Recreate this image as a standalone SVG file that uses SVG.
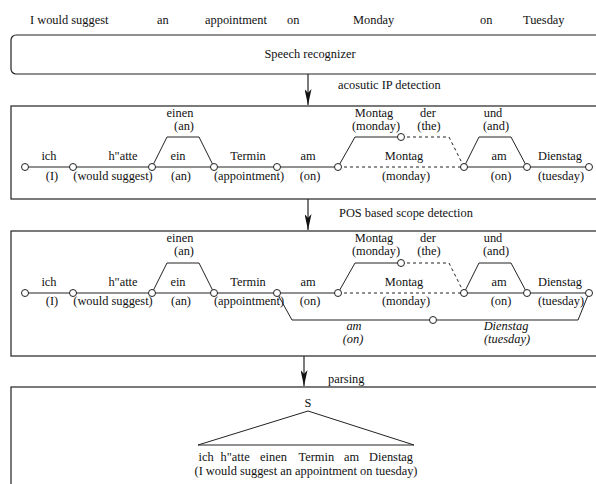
<svg xmlns="http://www.w3.org/2000/svg" width="596" height="484" viewBox="0 0 596 484">
<defs>
<style>
text{font-family:"Liberation Serif","Times New Roman",serif;font-size:12.4px;fill:#111;text-anchor:middle}
.st{text-anchor:start}
.it{font-style:italic}
.box{fill:none;stroke:#222;stroke-width:1.2}
.e{fill:none;stroke:#222;stroke-width:1}
.d{fill:none;stroke:#222;stroke-width:1;stroke-dasharray:3,3}
.n{fill:#fff;stroke:#222;stroke-width:1}
.ar{stroke:#222;stroke-width:1.2;fill:none}
</style>
<marker id="ah" viewBox="0 0 7 16" refX="3.5" refY="16" markerWidth="7" markerHeight="16" orient="auto" markerUnits="userSpaceOnUse">
<path d="M0,0 L3.5,16 L7,0 L3.5,4 Z" fill="#111" transform="rotate(-90 3.5 8) translate(0 0)"/>
</marker>
<marker id="ah2" viewBox="0 0 16 7" refX="16" refY="3.5" markerWidth="16" markerHeight="7" orient="auto" markerUnits="userSpaceOnUse">
<path d="M0,0 L16,3.5 L0,7 L4,3.5 Z" fill="#111"/>
</marker>
</defs>
<rect width="596" height="484" fill="#fff"/>

<g id="input-words">
<text class="st" x="30" y="24">I would suggest</text>
<text class="st" x="157" y="24">an</text>
<text class="st" x="205" y="24">appointment</text>
<text class="st" x="287" y="24">on</text>
<text class="st" x="353" y="24">Monday</text>
<text class="st" x="480" y="24">on</text>
<text class="st" x="523" y="24">Tuesday</text>
</g>

<g id="speech-recognizer">
<rect class="box" x="11" y="35" width="620" height="39" rx="5"/>
<text x="310" y="58">Speech recognizer</text>
</g>

<g id="lattice-acoustic">
<rect class="box" x="11" y="106" width="620" height="93"/>
<path class="e" d="M25,167H73M73,167H152M152,167H214M214,167H277M277,167H338M464,167H527M527,167H589"/>
<path class="e" d="M152,167L167,137H199L214,167"/>
<path class="e" d="M338,167L355,137H401"/>
<path class="d" d="M401,137H449L464,167M338,167H464"/>
<path class="e" d="M464,167L479,137H511L527,167"/>
<circle class="n" cx="25" cy="167" r="3.5"/>
<circle class="n" cx="73" cy="167" r="3.5"/>
<circle class="n" cx="152" cy="167" r="3.5"/>
<circle class="n" cx="214" cy="167" r="3.5"/>
<circle class="n" cx="277" cy="167" r="3.5"/>
<circle class="n" cx="338" cy="167" r="3.5"/>
<circle class="n" cx="401" cy="137" r="3.5"/>
<circle class="n" cx="464" cy="167" r="3.5"/>
<circle class="n" cx="527" cy="167" r="3.5"/>
<circle class="n" cx="589" cy="167" r="3.5"/>
<text x="49" y="160">ich</text><text x="52" y="179.5">(I)</text>
<text x="123" y="160">h"atte</text><text x="113" y="179.5">(would suggest)</text>
<text x="180" y="116.5">einen</text><text x="184" y="129.5">(an)</text>
<text x="178" y="160">ein</text><text x="181" y="179.5">(an)</text>
<text x="248" y="160">Termin</text><text x="249" y="179.5">(appointment)</text>
<text x="308" y="160">am</text><text x="310" y="179.5">(on)</text>
<text x="374" y="116.5">Montag</text><text x="376" y="129.5">(monday)</text>
<text x="428" y="116.5">der</text><text x="429" y="129.5">(the)</text>
<text x="404" y="160">Montag</text><text x="406" y="179.5">(monday)</text>
<text x="493" y="116.5">und</text><text x="496" y="129.5">(and)</text>
<text x="499" y="160">am</text><text x="501" y="179.5">(on)</text>
<text x="560" y="160">Dienstag</text><text x="561" y="179.5">(tuesday)</text>
</g>

<g id="lattice-scope">
<rect class="box" x="11" y="231" width="620" height="125"/>
<path class="e" d="M25,293H73M73,293H152M152,293H214M214,293H277M277,293H338M464,293H527M527,293H589"/>
<path class="e" d="M152,293L167,263H199L214,293"/>
<path class="e" d="M338,293L355,263H401"/>
<path class="d" d="M401,263H449L464,293M338,293H464"/>
<path class="e" d="M464,293L479,263H511L527,293"/>
<path class="e" d="M277,293L292,320H578L589,293"/>
<circle class="n" cx="25" cy="293" r="3.5"/>
<circle class="n" cx="73" cy="293" r="3.5"/>
<circle class="n" cx="152" cy="293" r="3.5"/>
<circle class="n" cx="214" cy="293" r="3.5"/>
<circle class="n" cx="277" cy="293" r="3.5"/>
<circle class="n" cx="338" cy="293" r="3.5"/>
<circle class="n" cx="401" cy="263" r="3.5"/>
<circle class="n" cx="464" cy="293" r="3.5"/>
<circle class="n" cx="527" cy="293" r="3.5"/>
<circle class="n" cx="589" cy="293" r="3.5"/>
<circle class="n" cx="433" cy="320" r="3.5"/>
<text x="49" y="285.5">ich</text><text x="52" y="305">(I)</text>
<text x="123" y="285.5">h"atte</text><text x="113" y="305">(would suggest)</text>
<text x="180" y="242">einen</text><text x="184" y="255">(an)</text>
<text x="178" y="285.5">ein</text><text x="181" y="305">(an)</text>
<text x="248" y="285.5">Termin</text><text x="249" y="305">(appointment)</text>
<text x="308" y="285.5">am</text><text x="310" y="305">(on)</text>
<text x="374" y="242">Montag</text><text x="376" y="255">(monday)</text>
<text x="428" y="242">der</text><text x="429" y="255">(the)</text>
<text x="404" y="285.5">Montag</text><text x="406" y="305">(monday)</text>
<text x="493" y="242">und</text><text x="496" y="255">(and)</text>
<text x="499" y="285.5">am</text><text x="501" y="305">(on)</text>
<text x="560" y="285.5">Dienstag</text><text x="561" y="305">(tuesday)</text>
<text class="it" x="354" y="330">am</text><text class="it" x="353" y="343">(on)</text>
<text class="it" x="506" y="330">Dienstag</text><text class="it" x="507" y="343">(tuesday)</text>
</g>

<g id="parse">
<rect class="box" x="11" y="387" width="620" height="120"/>
<text x="308" y="407">S</text>
<path class="e" d="M198,445L308,411L414,445Z"/>
<text class="st" x="198.5" y="461">ich</text>
<text class="st" x="220.5" y="461">h"atte</text>
<text class="st" x="260" y="461">einen</text>
<text class="st" x="298.5" y="461">Termin</text>
<text class="st" x="344" y="461">am</text>
<text class="st" x="369" y="461">Dienstag</text>
<text x="306" y="475">(I would suggest an appointment on tuesday)</text>
</g>

<g id="connectors">
<line class="ar" x1="308" y1="74" x2="308" y2="105" marker-end="url(#ah2)"/>
<text class="st" x="338" y="89">acosutic IP detection</text>
<line class="ar" x1="308" y1="199" x2="308" y2="230" marker-end="url(#ah2)"/>
<text class="st" x="339" y="217">POS based scope detection</text>
<line class="ar" x1="304" y1="356" x2="304" y2="386" marker-end="url(#ah2)"/>
<text class="st" x="328" y="383">parsing</text>
</g>
</svg>
